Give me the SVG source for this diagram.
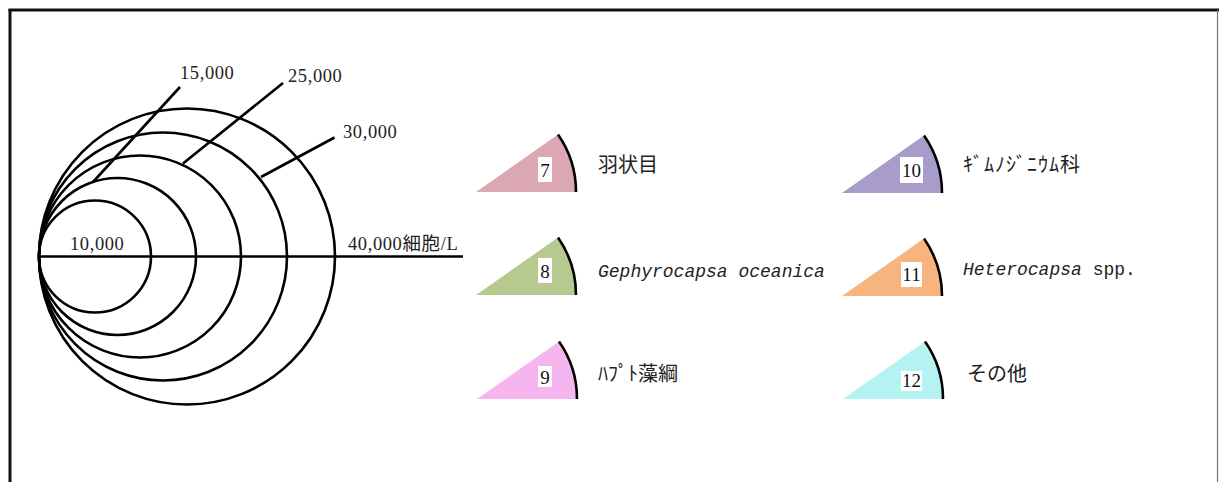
<svg xmlns="http://www.w3.org/2000/svg" width="1219" height="482" viewBox="0 0 1219 482">
<style>
.ln{stroke:#000;stroke-width:2.6;fill:none}
.num{font-family:"Liberation Serif","Noto Sans CJK JP",serif;font-size:18.5px;letter-spacing:0.6px;fill:#222}
.lg{font-family:"Liberation Serif","Noto Sans CJK JP",serif;font-size:20px;fill:#222}
.mono{font-family:"Liberation Mono",monospace;font-size:18px;fill:#222}
.box{fill:#fff}
.bn{font-family:"Liberation Serif",serif;font-size:19px;fill:#111;text-anchor:middle}
.arc{stroke:#000;stroke-width:2.6;fill:none}
</style>
<rect width="1219" height="482" fill="#fff"/>
<g id="frame">
<line x1="8.5" y1="10" x2="1219" y2="10" stroke="#111" stroke-width="2.8"/>
<line x1="10" y1="9" x2="10" y2="482" stroke="#111" stroke-width="3"/>
<line x1="1217.5" y1="10" x2="1217.5" y2="482" stroke="#777" stroke-width="1.2"/>
</g>
<g id="scale">
<circle class="ln" cx="95" cy="256.5" r="56"/>
<circle class="ln" cx="117.5" cy="256.5" r="78.5"/>
<circle class="ln" cx="140" cy="256.5" r="101"/>
<circle class="ln" cx="163" cy="256.5" r="124"/>
<circle class="ln" cx="187" cy="256.5" r="148"/>
<line class="ln" x1="39" y1="256.5" x2="463" y2="256.5"/>
</g>
<g id="connectors">
<line class="ln" x1="180" y1="87" x2="93" y2="182"/>
<line class="ln" x1="283" y1="83" x2="183" y2="163.5"/>
<line class="ln" x1="334.5" y1="137.5" x2="261" y2="177"/>
</g>
<g id="scale-labels">
<text class="num" x="180" y="79">15,000</text>
<text class="num" x="288" y="82">25,000</text>
<text class="num" x="343" y="138">30,000</text>
<text class="num" x="70" y="250">10,000</text>
<text class="num" x="348" y="250">40,000細胞/L</text>
</g>
<g id="legend-7">
<path d="M476,192 L558,134.6 A100,100 0 0 1 576,192 Z" fill="#dca8b3"/>
<path class="arc" d="M558,134.6 A100,100 0 0 1 576,192"/>
<rect class="box" x="538" y="157" width="14" height="25"/>
<text class="bn" x="545" y="177">7</text>
<text class="lg" x="598" y="172">羽状目</text>
</g>
<g id="legend-8">
<path d="M476,295 L558,237.6 A100,100 0 0 1 576,295 Z" fill="#b6c98f"/>
<path class="arc" d="M558,237.6 A100,100 0 0 1 576,295"/>
<rect class="box" x="538" y="258" width="14" height="25"/>
<text class="bn" x="545" y="278">8</text>
<text class="mono" x="598" y="277" font-style="italic">Gephyrocapsa oceanica</text>
</g>
<g id="legend-9">
<path d="M477,399 L559,341.6 A100,100 0 0 1 577,399 Z" fill="#f5b6ef"/>
<path class="arc" d="M559,341.6 A100,100 0 0 1 577,399"/>
<rect class="box" x="538" y="366" width="14" height="21"/>
<text class="bn" x="545" y="384">9</text>
<text class="lg" x="598" y="381">ﾊﾌﾟﾄ藻綱</text>
</g>
<g id="legend-10">
<path d="M842,193 L924,135.6 A100,100 0 0 1 942,193 Z" fill="#a89cca"/>
<path class="arc" d="M924,135.6 A100,100 0 0 1 942,193"/>
<rect class="box" x="900" y="157" width="23" height="26"/>
<text class="bn" x="911.5" y="177">10</text>
<text class="lg" x="963" y="172" textLength="117">ｷﾞﾑﾉｼﾞﾆｳﾑ科</text>
</g>
<g id="legend-11">
<path d="M842,296 L924,238.6 A100,100 0 0 1 942,296 Z" fill="#f8b47e"/>
<path class="arc" d="M924,238.6 A100,100 0 0 1 942,296"/>
<rect class="box" x="901" y="262" width="21" height="25"/>
<text class="bn" x="911.5" y="281">11</text>
<text class="mono" x="963" y="275" font-size="17"><tspan font-style="italic">Heterocapsa</tspan> spp.</text>
</g>
<g id="legend-12">
<path d="M843,399 L925,341.6 A100,100 0 0 1 943,399 Z" fill="#b5f2f2"/>
<path class="arc" d="M925,341.6 A100,100 0 0 1 943,399"/>
<rect class="box" x="901" y="371" width="21" height="20"/>
<text class="bn" x="911.5" y="387">12</text>
<text class="lg" x="967" y="381">その他</text>
</g>
</svg>
